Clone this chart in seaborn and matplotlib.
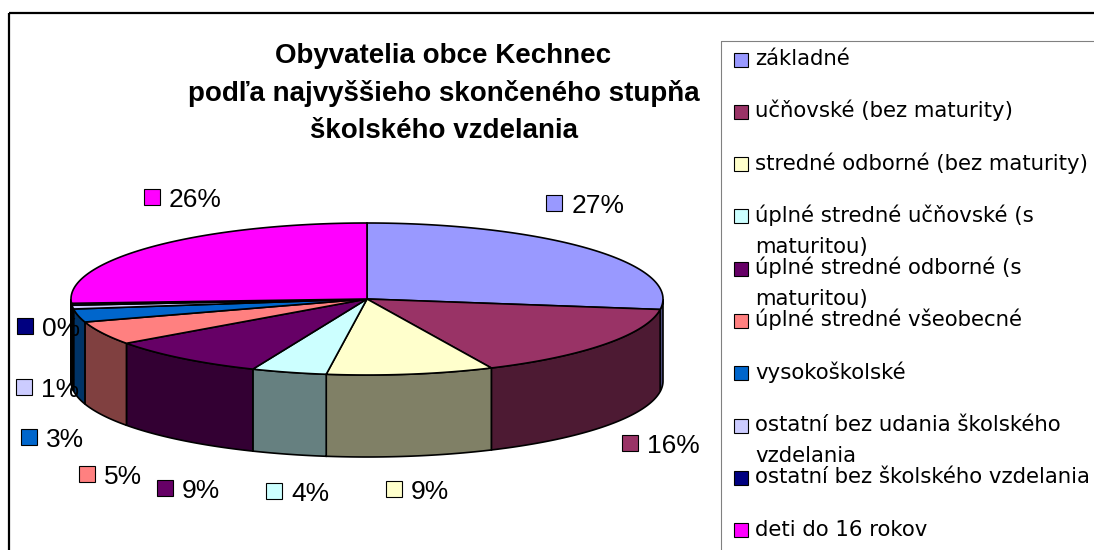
import numpy as np
import matplotlib.pyplot as plt
from matplotlib.patches import Polygon, Rectangle
import seaborn as sns

# data
categories = ['základné', 'učňovské (bez maturity)', 'stredné odborné (bez maturity)',
              'úplné stredné učňovské (s\nmaturitou)', 'úplné stredné odborné (s\nmaturitou)',
              'úplné stredné všeobecné', 'vysokoškolské',
              'ostatní bez udania školského\nvzdelania', 'ostatní bez školského vzdelania',
              'deti do 16 rokov']
shares = [27.2, 15.9, 9.1, 4.1, 8.8, 5.0, 2.8, 0.8, 0.4, 25.9]
colors = ['#9999FF', '#993366', '#FFFFCC', '#CCFFFF', '#660066',
          '#FF8080', '#0066CC', '#CCCCFF', '#000080', '#FF00FF']
title_lines = ['Obyvatelia obce Kechnec',
               'podľa najvyššieho skončeného stupňa',
               'školského vzdelania']

# layout in pixels
CX, CY, RX, RY, DEPTH = 367, 299, 296, 76, 82
label_offsets = [(-36, -46), (25, 17), (-17, 33), (-15, 37), (-18, 48),
                 (-15, 59), (-49, 39), (-49, -2), (-47, -60), (0, -50)]

sns.set_theme(style='white')
plt.rcParams['font.family'] = ['Liberation Sans', 'DejaVu Sans']
plt.rcParams['text.color'] = 'black'

fig = plt.figure(figsize=(10.94, 5.5), dpi=100, facecolor='white')
ax = fig.add_axes([0, 0, 1, 1])
ax.set_xlim(0, 1094)
ax.set_ylim(550, 0)
ax.axis('off')

pal = sns.color_palette(colors)
side = [tuple(np.array(c) * 0.5) for c in pal]

frac = np.array(shares) / sum(shares)
edges = 90 - 360 * np.concatenate([[0], np.cumsum(frac)])


def ell(t):
    t = np.radians(t)
    return CX + RX * np.cos(t), CY - RY * np.sin(t)


# outer frame and legend box
ax.add_patch(Rectangle((8.5, 12.5), 1200, 700, fill=False, ec='black', lw=1.6))
ax.add_patch(Rectangle((720.5, 40.5), 500, 600, fill=False, ec='#808080', lw=0.8))

# side walls (front half only)
for i in range(len(shares)):
    hi, lo = edges[i], edges[i + 1]
    lo2, hi2 = max(lo, -180), min(hi, 0)
    if hi2 <= lo2:
        continue
    t = np.linspace(lo2, hi2, 80)
    x, y = ell(t)
    pts = np.column_stack([np.concatenate([x, x[::-1]]),
                           np.concatenate([y, y[::-1] + DEPTH])])
    ax.add_patch(Polygon(pts, closed=True, fc=side[i], ec='black', lw=1.2))

# top faces
for i in range(len(shares)):
    t = np.linspace(edges[i], edges[i + 1], 120)
    x, y = ell(t)
    pts = np.vstack([[CX, CY], np.column_stack([x, y])])
    ax.add_patch(Polygon(pts, closed=True, fc=pal[i], ec='black', lw=1.2))

# percent labels
for i, v in enumerate(shares):
    tm = (edges[i] + edges[i + 1]) / 2
    x, y = ell(tm)
    if np.sin(np.radians(tm)) < 0:
        y = y + DEPTH
    sx, sy = x + label_offsets[i][0], y + label_offsets[i][1]
    ax.add_patch(Rectangle((sx - 8, sy - 8), 16, 16, fc=pal[i], ec='black', lw=0.8))
    ax.text(sx + 17, sy + 10, f'{round(v)}%', fontsize=19, va='baseline', ha='left',
            family='Liberation Sans', color='black')

# title
for k, line in enumerate(title_lines):
    ax.text(443.5, 63.3 + 37.5 * k, line, fontsize=20, fontweight='bold',
            ha='center', va='baseline', family='Liberation Sans', color='black')

# legend
for k, name in enumerate(categories):
    base = 65 + 52.3 * k
    ax.add_patch(Rectangle((733.5, base - 12.5), 14, 14, fc=pal[k], ec='black', lw=0.8))
    for j, part in enumerate(name.split('\n')):
        ax.text(755, base + 30.6 * j, part, fontsize=15.3, va='baseline', ha='left',
                family='DejaVu Sans', color='black')

fig.savefig('out.png', dpi=100, facecolor='white')
